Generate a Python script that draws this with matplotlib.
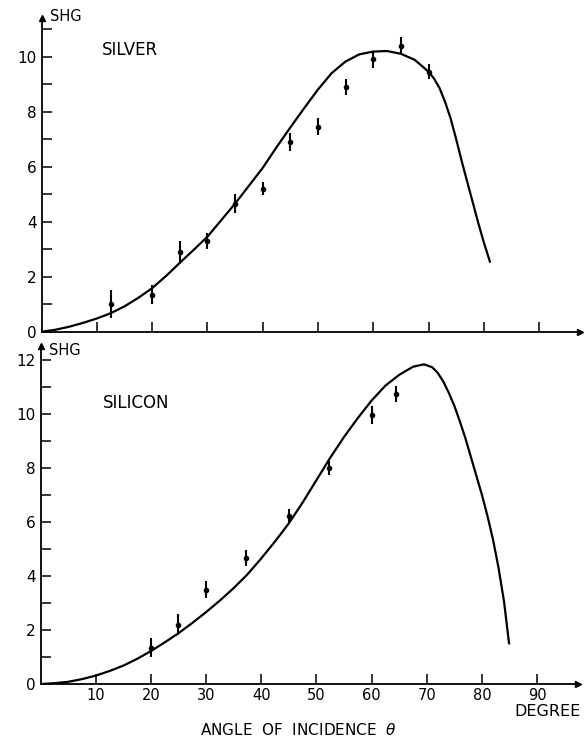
import numpy as np
import matplotlib
matplotlib.use("Agg")
import matplotlib.pyplot as plt
from matplotlib.ticker import MultipleLocator

# silver: measured points (angle, SHG, error) and theory curve
ag_angle = [12.5, 20, 25, 30, 35, 40, 45, 50, 55, 60, 65, 70]
ag_shg = [1.0, 1.35, 2.9, 3.3, 4.65, 5.2, 6.9, 7.45, 8.9, 9.9, 10.4, 9.45]
ag_err = [0.5, 0.35, 0.4, 0.3, 0.35, 0.25, 0.33, 0.3, 0.3, 0.3, 0.3, 0.27]
ag_curve_x = [0, 2.5, 5, 7.5, 10, 12.5, 15, 17.5, 20, 22.5, 25, 27.5, 30, 32.5,
              35, 37.5, 40, 42.5, 45, 47.5, 50, 52.5, 55, 57.5, 60, 62.5, 65,
              67.5, 70, 71, 72, 73, 74, 75, 76, 77, 78, 79, 80, 81.1]
ag_curve_y = [0, 0.07, 0.18, 0.32, 0.48, 0.67, 0.92, 1.23, 1.58, 2.02, 2.5,
              2.97, 3.45, 4.05, 4.65, 5.3, 5.95, 6.7, 7.42, 8.12, 8.8, 9.4,
              9.82, 10.08, 10.18, 10.2, 10.1, 9.88, 9.45, 9.2, 8.85, 8.35,
              7.75, 7.0, 6.2, 5.45, 4.7, 3.95, 3.25, 2.55]

# silicon
si_angle = [20, 25, 30, 37.3, 45, 52.2, 60, 64.5]
si_shg = [1.35, 2.2, 3.5, 4.68, 6.22, 8.0, 9.96, 10.74]
si_err = [0.35, 0.38, 0.32, 0.3, 0.25, 0.26, 0.33, 0.3]
si_curve_x = [0, 2.5, 5, 7.5, 10, 12.5, 15, 17.5, 20, 22.5, 25, 27.5, 30,
              32.5, 35, 37.5, 40, 42.5, 45, 47.5, 50, 52.5, 55, 57.5, 60,
              62.5, 65, 67.5, 69.5, 71, 72, 73, 74, 75, 76, 77, 78, 79, 80,
              81, 82, 83, 84, 84.9]
si_curve_y = [0, 0.03, 0.08, 0.18, 0.31, 0.48, 0.68, 0.93, 1.22, 1.54, 1.88,
              2.26, 2.66, 3.09, 3.55, 4.06, 4.65, 5.28, 5.95, 6.72, 7.55,
              8.38, 9.15, 9.85, 10.5, 11.05, 11.45, 11.75, 11.84, 11.73,
              11.52, 11.2, 10.78, 10.3, 9.72, 9.1, 8.4, 7.7, 7.0, 6.22, 5.35,
              4.3, 3.05, 1.51]

x_ticks = [10, 20, 30, 40, 50, 60, 70, 80, 90]

plt.rcParams['font.family'] = 'DejaVu Sans'

fig = plt.figure(figsize=(5.86, 7.42), dpi=100)
W, H = 586.0, 742.0

ax1 = fig.add_axes([41.5 / W, (H - 331.7) / H, 538.5 / W, 313.7 / H])
ax2 = fig.add_axes([40.5 / W, (H - 684) / H, 537.5 / W, 337.5 / H])


def style_axes(ax, ymax, ylabels_max, show_xlabels):
	ax.set_xlim(0, 97.4)
	ax.set_ylim(0, ymax)
	for s in ['top', 'right']:
		ax.spines[s].set_visible(False)
	for s in ['left', 'bottom']:
		ax.spines[s].set_linewidth(1.3)
	ax.set_xticks(x_ticks)
	if not show_xlabels:
		ax.set_xticklabels([])
	ax.yaxis.set_major_locator(MultipleLocator(2))
	ax.yaxis.set_minor_locator(MultipleLocator(1))
	ax.set_yticks(np.arange(0, ylabels_max + 1, 2))
	ax.tick_params(axis='both', which='both', direction='in', length=7.5,
	               width=1.1, color='black')
	ax.tick_params(axis='x', labelsize=10.5, pad=3)
	ax.tick_params(axis='y', labelsize=11, pad=3.5)
	# arrow heads on axes
	ax.plot(1, 0, '>', color='black', markersize=5, transform=ax.transAxes, clip_on=False)
	ax.plot(0, 1, '^', color='black', markersize=5, transform=ax.transAxes, clip_on=False)


style_axes(ax1, 11.4, 10, False)
style_axes(ax2, 12.5, 12, True)

ax1.plot(ag_curve_x, ag_curve_y, color='black', lw=1.6, solid_joinstyle='round')
ax1.errorbar(ag_angle, ag_shg, yerr=ag_err, fmt='o', color='black',
             markersize=3, elinewidth=1.5, capsize=0)
ax2.plot(si_curve_x, si_curve_y, color='black', lw=1.6, solid_joinstyle='round')
ax2.errorbar(si_angle, si_shg, yerr=si_err, fmt='o', color='black',
             markersize=3, elinewidth=1.5, capsize=0)

ax1.text(1.5, 11.44, 'SHG', fontsize=10.5, va='center', ha='left')
ax2.text(1.5, 12.37, 'SHG', fontsize=10.5, va='center', ha='left')
ax1.text(10.9, 10.24, 'SILVER', fontsize=12, va='center', ha='left')
ax2.text(11.3, 10.42, 'SILICON', fontsize=12, va='center', ha='left')

fig.text(547 / W, 1 - 712 / H, 'DEGREE', fontsize=11.5, ha='center', va='center')
fig.text(298 / W, 1 - 730 / H, 'ANGLE  OF  INCIDENCE  $\\theta$', fontsize=11,
         ha='center', va='center')

fig.savefig('out.png', dpi=100)
